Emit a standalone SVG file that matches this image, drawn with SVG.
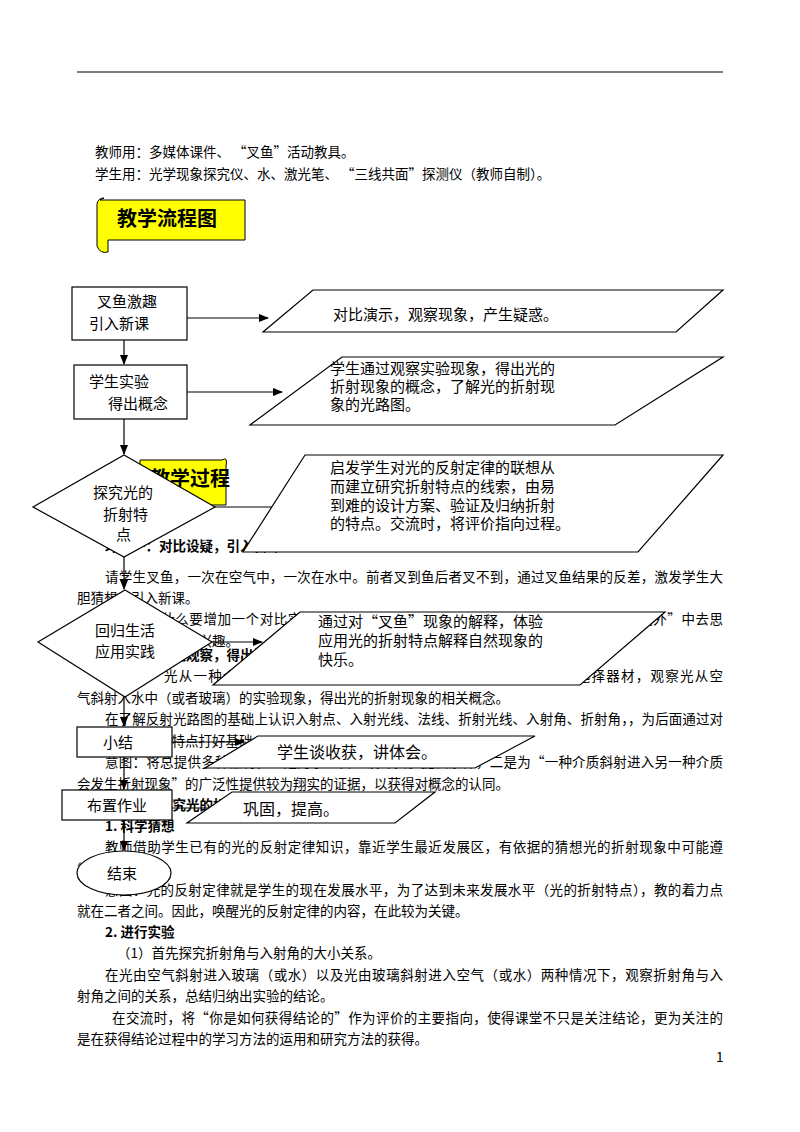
<svg xmlns="http://www.w3.org/2000/svg" width="800" height="1132" viewBox="0 0 800 1132">
<style>
text{font-family:"Noto Sans CJK SC","Liberation Serif",serif;fill:#000}
.b{font-size:13.5px}
.bb{font-size:13.5px;font-weight:bold}
.n{fill:#fff;stroke:#000;stroke-width:1.2}
.l{font-size:15px}
.c line{stroke:#000;stroke-width:1.2;marker-end:url(#a)}
</style>
<defs><marker id="a" markerWidth="10" markerHeight="8" refX="9" refY="4" orient="auto" markerUnits="userSpaceOnUse"><path d="M0,0L10,4L0,8z"/></marker></defs>
<rect width="800" height="1132" fill="#fff"/>
<line x1="77" y1="72" x2="723" y2="72" stroke="#000" stroke-width="1.2"/>
<text class="b" x="95" y="157">教师用：多媒体课件、 “叉鱼”活动教具。</text>
<text class="b" x="95" y="179">学生用：光学现象探究仪、水、激光笔、 “三线共面”探测仪（教师自制）。</text>
<g id="banner1"><path d="M100,200 L245,200 L245,240 L108,240 L108,252 Q100,254 97,246 L97,204 Q98,198 104,198Z" fill="#ffff00" stroke="#000"/><text x="117" y="226" style="font-size:20px;font-weight:bold">教学流程图</text></g>
<g id="banner2"><path d="M140,460 L222,460 Q228,456 226,466 L226,505 L140,505Z" fill="#ffff00" stroke="#000"/><text x="150" y="486" style="font-size:20px;font-weight:bold">教学过程</text></g>
<g id="bodytext">
<text class="bb" x="105" y="551">环节一：对比设疑，引入新课</text>
<text class="b" x="105" y="582" textLength="618">请学生叉鱼，一次在空气中，一次在水中。前者叉到鱼后者叉不到，通过叉鱼结果的反差，激发学生大</text>
<text class="b" x="77" y="603">胆猜想，引入新课。</text>
<text class="b" x="105" y="624" textLength="618">意图：为什么要增加一个对比实验呢？此举意在将熟悉的情景新鲜化，让学生在“意料之外”中去思</text>
<text class="b" x="77" y="646">考，激发学生的探究兴趣。</text>
<text class="bb" x="105" y="660">环节二：实验观察，得出概念</text>
<text class="b" x="105" y="681" textLength="618">首先让“光从一种介质斜射入另一种介质”的实验由学生自主设计，自主选择器材，观察光从空</text>
<text class="b" x="77" y="703">气斜射入水中（或者玻璃）的实验现象，得出光的折射现象的相关概念。</text>
<text class="b" x="105" y="724" textLength="618">在了解反射光路图的基础上认识入射点、入射光线、法线、折射光线、入射角、折射角，，为后面通过对</text>
<text class="b" x="77" y="746">比探究光的折射特点打好基础。</text>
<text class="b" x="105" y="767" textLength="618">意图：将总提供多种器材，一是为学生自主设计实验提供条件，二是为“一种介质斜射进入另一种介质</text>
<text class="b" x="77" y="789">会发生折射现象”的广泛性提供较为翔实的证据，以获得对概念的认同。</text>
<text class="bb" x="105" y="810">环节三：探究光的折射特点</text>
<text class="bb" x="105" y="831">1. 科学猜想</text>
<text class="b" x="105" y="852" textLength="618">教师借助学生已有的光的反射定律知识，靠近学生最近发展区，有依据的猜想光的折射现象中可能遵</text>
<text class="b" x="77" y="874">循的规律。</text>
<text class="b" x="105" y="895" textLength="618">意图：光的反射定律就是学生的现在发展水平，为了达到未来发展水平（光的折射特点），教的着力点</text>
<text class="b" x="77" y="916">就在二者之间。因此，唤醒光的反射定律的内容，在此较为关键。</text>
<text class="bb" x="105" y="937">2. 进行实验</text>
<text class="b" x="117" y="958">（1）首先探究折射角与入射角的大小关系。</text>
<text class="b" x="105" y="980" textLength="618">在光由空气斜射进入玻璃（或水）以及光由玻璃斜射进入空气（或水）两种情况下，观察折射角与入</text>
<text class="b" x="77" y="1001">射角之间的关系，总结归纳出实验的结论。</text>
<text class="b" x="112" y="1023" textLength="611">在交流时，将“你是如何获得结论的”作为评价的主要指向，使得课堂不只是关注结论，更为关注的</text>
<text class="b" x="77" y="1044">是在获得结论过程中的学习方法的运用和研究方法的获得。</text>
<text class="b" x="716" y="1062">1</text>
</g>
<g id="connectors" class="c">
<line x1="187" y1="318" x2="268" y2="318"/>
<line x1="124" y1="340" x2="124" y2="364"/>
<line x1="187" y1="392" x2="282" y2="392"/>
<line x1="124" y1="419" x2="124" y2="454"/>
<line x1="215" y1="507" x2="283" y2="507"/>
<line x1="124" y1="557" x2="124" y2="589"/>
<line x1="212" y1="642" x2="262" y2="642"/>
<line x1="124" y1="697" x2="124" y2="726"/>
<line x1="172" y1="742" x2="244" y2="742"/>
<line x1="124" y1="757" x2="124" y2="789"/>
<line x1="172" y1="808" x2="222" y2="808"/>
<line x1="124" y1="820" x2="124" y2="850"/>
</g>
<g id="n1"><rect class="n" x="72" y="287" width="115" height="53"/><text class="l" x="97" y="307">叉鱼激趣</text><text class="l" x="89" y="329">引入新课</text></g>
<g id="p1"><polygon class="n" points="313,290 723,290 676,332 263,332"/><text class="l" x="333" y="320">对比演示，观察现象，产生疑惑。</text></g>
<g id="n2"><rect class="n" x="74" y="365" width="113" height="54"/><text class="l" x="89" y="387">学生实验</text><text class="l" x="108" y="409">得出概念</text></g>
<g id="p2"><polygon class="n" points="342,357 723,357 615,425 250,425"/><text class="l" x="330" y="374">学生通过观察实验现象，得出光的</text><text class="l" x="330" y="392">折射现象的概念，了解光的折射现</text><text class="l" x="330" y="410">象的光路图。</text></g>
<g id="d1"><polygon class="n" points="124,455 215,507 124,557 33,507"/><text class="l" x="93" y="498">探究光的</text><text class="l" x="103" y="520">折射特</text><text class="l" x="116" y="540">点</text></g>
<g id="p3"><polygon class="n" points="305,455 723,455 638,552 243,552"/><text class="l" x="330" y="473">启发学生对光的反射定律的联想从</text><text class="l" x="330" y="492">而建立研究折射特点的线索，由易</text><text class="l" x="330" y="511">到难的设计方案、验证及归纳折射</text><text class="l" x="330" y="529">的特点。交流时，将评价指向过程。</text></g>
<g id="d2"><polygon class="n" points="125,590 212,642 125,697 38,642"/><text class="l" x="95" y="636">回归生活</text><text class="l" x="95" y="657">应用实践</text></g>
<g id="p4"><polygon class="n" points="300,612 665,612 580,685 213,685"/><text class="l" x="318" y="627">通过对“叉鱼”现象的解释，体验</text><text class="l" x="318" y="646">应用光的折射特点解释自然现象的</text><text class="l" x="318" y="665">快乐。</text></g>
<g id="n3"><rect class="n" x="77" y="727" width="95" height="30"/><text class="l" x="103" y="748">小结</text></g>
<g id="p5"><polygon class="n" points="258,736 535,736 475,768 205,768"/><text style="font-size:16px" x="277" y="758">学生谈收获，讲体会。</text></g>
<g id="n4"><rect class="n" x="62" y="790" width="110" height="30"/><text class="l" x="87" y="811">布置作业</text></g>
<g id="p6"><polygon class="n" points="232,792 435,792 395,823 187,823"/><text style="font-size:16px" x="243" y="815">巩固，提高。</text></g>
<g id="e1"><ellipse class="n" cx="124" cy="873" rx="47" ry="22"/><text class="l" x="107" y="879">结束</text></g>
</svg>
